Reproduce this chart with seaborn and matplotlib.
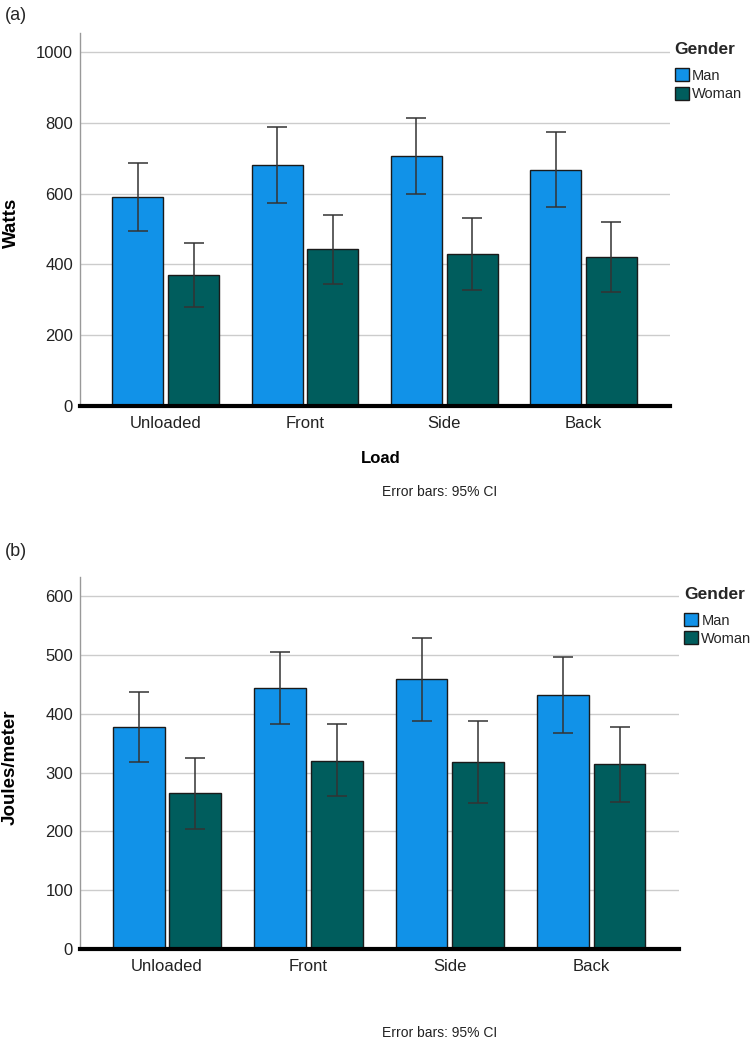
import matplotlib
matplotlib.use("Agg")
import matplotlib.pyplot as plt
import seaborn as sns
import pandas as pd

# ---- data ----
loads = ["Unloaded", "Front", "Side", "Back"]
genders = ["Man", "Woman"]

watts_man = [591, 682, 706, 668]
watts_man_lo = [494, 575, 598, 563]
watts_man_hi = [688, 787, 814, 775]
watts_woman = [369, 444, 429, 421]
watts_woman_lo = [280, 345, 329, 322]
watts_woman_hi = [460, 540, 530, 519]

jm_man = [378, 443, 459, 432]
jm_man_lo = [318, 382, 388, 368]
jm_man_hi = [437, 504, 528, 496]
jm_woman = [265, 320, 318, 314]
jm_woman_lo = [205, 260, 248, 250]
jm_woman_hi = [324, 382, 388, 378]

watts_ticks = [0, 200, 400, 600, 800, 1000]
jm_ticks = [0, 100, 200, 300, 400, 500, 600]

colors = {"Man": "#1192e8", "Woman": "#005d5d"}

sns.set_style("white")
plt.rcParams["font.family"] = ["Liberation Sans", "DejaVu Sans"]

W, H = 750, 1042
fig = plt.figure(figsize=(W / 100, H / 100), dpi=100)


def px_axes(x0, y0, x1, y1):
    return fig.add_axes([x0 / W, 1 - y1 / H, (x1 - x0) / W, (y1 - y0) / H])


def panel(ax, means_m, lo_m, hi_m, means_w, lo_w, hi_w, ylim, ticks, ylabel, xlabel, legend_y):
    df = pd.DataFrame({
        "Load": loads * 2,
        "Gender": ["Man"] * len(loads) + ["Woman"] * len(loads),
        "value": list(means_m) + list(means_w),
    })
    sns.barplot(data=df, x="Load", y="value", hue="Gender", order=loads,
                hue_order=genders, palette=colors, errorbar=None, width=0.8,
                gap=0.085, edgecolor="#1a1a1a", linewidth=1.0, saturation=1,
                ax=ax, zorder=3)
    los = [lo_m, lo_w]
    his = [hi_m, hi_w]
    mids = [means_m, means_w]
    bar_conts = list(ax.containers)[:2]
    for gi, cont in enumerate(bar_conts):
        xs = [b.get_x() + b.get_width() / 2 for b in cont]
        m = mids[gi]
        yerr = [[m[i] - los[gi][i] for i in range(len(m))],
                [his[gi][i] - m[i] for i in range(len(m))]]
        ax.errorbar(xs, m, yerr=yerr, fmt="none", ecolor="#333333",
                    elinewidth=1.1, capsize=7.5, capthick=1.1, zorder=4)
    ax.set_ylim(*ylim)
    ax.set_yticks(ticks)
    ax.set_xlim(-0.615, 3.62)
    ax.yaxis.grid(True, color="#cccccc", linewidth=1.0, zorder=0)
    ax.set_axisbelow(True)
    for s in ["top", "right"]:
        ax.spines[s].set_visible(False)
    ax.spines["left"].set_color("#999999")
    ax.spines["left"].set_linewidth(1.0)
    ax.spines["bottom"].set_color("black")
    ax.spines["bottom"].set_linewidth(3.0)
    ax.spines["bottom"].set_zorder(5)
    ax.tick_params(axis="both", length=0, labelsize=12, labelcolor="#222222")
    ax.tick_params(axis="y", pad=5)
    ax.tick_params(axis="x", pad=7)
    ax.set_ylabel(ylabel, fontsize=13.5, fontweight="bold", color="black")
    ax.yaxis.label.set_va("center")
    ax.yaxis.set_label_coords(-0.116, 0.49)
    if xlabel:
        ax.set_xlabel(xlabel, fontsize=12, fontweight="bold", color="black")
        ax.xaxis.label.set_va("center")
        ax.xaxis.set_label_coords(0.51, -0.142)
    else:
        ax.set_xlabel("")
    handles, labels = ax.get_legend_handles_labels()
    if ax.get_legend() is not None:
        ax.get_legend().remove()
    leg = ax.legend(handles, labels, title="Gender", loc="upper left",
                    bbox_to_anchor=(1.008, legend_y), frameon=False,
                    fontsize=10.5, handlelength=1.0, handleheight=1.0,
                    handletextpad=0.2, labelspacing=0.25, borderpad=0,
                    borderaxespad=0, title_fontproperties={"weight": "bold", "size": 12.5})
    leg._legend_box.align = "left"
    leg._legend_box.sep = 8
    for h in leg.legend_handles:
        h.set_edgecolor("#1a1a1a")
        h.set_linewidth(1.0)


ax1 = px_axes(80, 33, 670, 406)
panel(ax1, watts_man, watts_man_lo, watts_man_hi, watts_woman, watts_woman_lo,
      watts_woman_hi, (0, 1054), watts_ticks, "Watts", "Load", 0.975)

ax2 = px_axes(80, 577, 679, 949.3)
panel(ax2, jm_man, jm_man_lo, jm_man_hi, jm_woman, jm_woman_lo, jm_woman_hi,
      (0, 632), jm_ticks, "Joules/meter", None, 0.973)

fig.text(5 / W, 1 - 15 / H, "(a)", fontsize=13, ha="left", va="center")
fig.text(5 / W, 1 - 552 / H, "(b)", fontsize=13, ha="left", va="center")
fig.text(440 / W, 1 - 492 / H, "Error bars: 95% CI", fontsize=10, ha="center", va="center", color="#222222")
fig.text(440 / W, 1 - 1033 / H, "Error bars: 95% CI", fontsize=10, ha="center", va="center", color="#222222")

fig.savefig("out.png", dpi=100)
